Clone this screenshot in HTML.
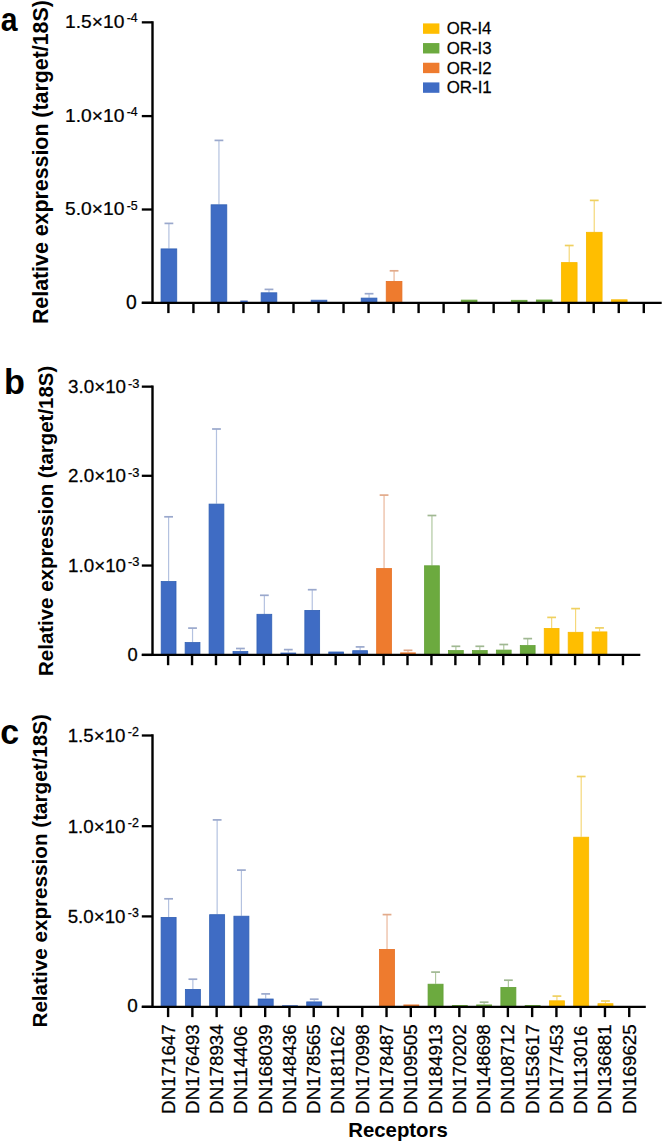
<!DOCTYPE html>
<html><head><meta charset="utf-8"><style>
html,body{margin:0;padding:0;background:#fff;}
body{width:663px;height:1143px;overflow:hidden;}
svg{display:block;font-family:"Liberation Sans", sans-serif;}
</style></head><body>
<svg width="663" height="1143" viewBox="0 0 663 1143">
<line x1="168.90" y1="248.50" x2="168.90" y2="223.40" stroke="#b4c2e0" stroke-width="1.2"/>
<line x1="164.50" y1="223.40" x2="173.30" y2="223.40" stroke="#9aa8cc" stroke-width="1.7"/>
<rect x="161.05" y="248.90" width="15.70" height="53.90" fill="#3f6cc4" stroke="#3060b4" stroke-width="0.8"/>
<line x1="218.94" y1="204.40" x2="218.94" y2="140.40" stroke="#b4c2e0" stroke-width="1.2"/>
<line x1="214.54" y1="140.40" x2="223.34" y2="140.40" stroke="#9aa8cc" stroke-width="1.7"/>
<rect x="211.09" y="204.80" width="15.70" height="98.00" fill="#3f6cc4" stroke="#3060b4" stroke-width="0.8"/>
<line x1="268.98" y1="292.40" x2="268.98" y2="289.40" stroke="#b4c2e0" stroke-width="1.2"/>
<line x1="264.58" y1="289.40" x2="273.38" y2="289.40" stroke="#9aa8cc" stroke-width="1.7"/>
<rect x="261.13" y="292.80" width="15.70" height="10.00" fill="#3f6cc4" stroke="#3060b4" stroke-width="0.8"/>
<rect x="311.17" y="300.20" width="15.70" height="2.60" fill="#3f6cc4" stroke="#3060b4" stroke-width="0.8"/>
<line x1="369.06" y1="297.70" x2="369.06" y2="293.70" stroke="#b4c2e0" stroke-width="1.2"/>
<line x1="364.66" y1="293.70" x2="373.46" y2="293.70" stroke="#9aa8cc" stroke-width="1.7"/>
<rect x="361.21" y="298.10" width="15.70" height="4.70" fill="#3f6cc4" stroke="#3060b4" stroke-width="0.8"/>
<line x1="394.08" y1="281.00" x2="394.08" y2="270.80" stroke="#eab89c" stroke-width="1.2"/>
<line x1="389.68" y1="270.80" x2="398.48" y2="270.80" stroke="#e2aa8a" stroke-width="1.7"/>
<rect x="386.23" y="281.40" width="15.70" height="21.40" fill="#ee7b2e" stroke="#e67024" stroke-width="0.8"/>
<rect x="461.29" y="300.10" width="15.70" height="2.70" fill="#6caa3f" stroke="#63a036" stroke-width="0.8"/>
<rect x="511.33" y="300.30" width="15.70" height="2.50" fill="#6caa3f" stroke="#63a036" stroke-width="0.8"/>
<rect x="536.35" y="300.00" width="15.70" height="2.80" fill="#6caa3f" stroke="#63a036" stroke-width="0.8"/>
<line x1="569.22" y1="262.20" x2="569.22" y2="245.50" stroke="#f5d87a" stroke-width="1.2"/>
<line x1="564.82" y1="245.50" x2="573.62" y2="245.50" stroke="#efd060" stroke-width="1.7"/>
<rect x="561.37" y="262.60" width="15.70" height="40.20" fill="#ffbe00" stroke="#f7b800" stroke-width="0.8"/>
<line x1="594.24" y1="231.90" x2="594.24" y2="200.40" stroke="#f5d87a" stroke-width="1.2"/>
<line x1="589.84" y1="200.40" x2="598.64" y2="200.40" stroke="#efd060" stroke-width="1.7"/>
<rect x="586.39" y="232.30" width="15.70" height="70.50" fill="#ffbe00" stroke="#f7b800" stroke-width="0.8"/>
<rect x="611.41" y="299.80" width="15.70" height="3.00" fill="#ffbe00" stroke="#f7b800" stroke-width="0.8"/>
<line x1="152.50" y1="21.15" x2="152.50" y2="304.00" stroke="#000" stroke-width="2.4"/>
<line x1="141.80" y1="302.80" x2="661.70" y2="302.80" stroke="#000" stroke-width="2.3"/>
<line x1="141.80" y1="302.80" x2="152.50" y2="302.80" stroke="#000" stroke-width="2.3"/>
<line x1="141.80" y1="209.50" x2="152.50" y2="209.50" stroke="#000" stroke-width="2.3"/>
<line x1="141.80" y1="116.10" x2="152.50" y2="116.10" stroke="#000" stroke-width="2.3"/>
<line x1="141.80" y1="22.35" x2="152.50" y2="22.35" stroke="#000" stroke-width="2.3"/>
<line x1="168.40" y1="302.80" x2="168.40" y2="313.10" stroke="#000" stroke-width="2.4"/>
<line x1="193.42" y1="302.80" x2="193.42" y2="313.10" stroke="#000" stroke-width="2.4"/>
<line x1="218.44" y1="302.80" x2="218.44" y2="313.10" stroke="#000" stroke-width="2.4"/>
<line x1="243.46" y1="302.80" x2="243.46" y2="313.10" stroke="#000" stroke-width="2.4"/>
<line x1="268.48" y1="302.80" x2="268.48" y2="313.10" stroke="#000" stroke-width="2.4"/>
<line x1="293.50" y1="302.80" x2="293.50" y2="313.10" stroke="#000" stroke-width="2.4"/>
<line x1="318.52" y1="302.80" x2="318.52" y2="313.10" stroke="#000" stroke-width="2.4"/>
<line x1="343.54" y1="302.80" x2="343.54" y2="313.10" stroke="#000" stroke-width="2.4"/>
<line x1="368.56" y1="302.80" x2="368.56" y2="313.10" stroke="#000" stroke-width="2.4"/>
<line x1="393.58" y1="302.80" x2="393.58" y2="313.10" stroke="#000" stroke-width="2.4"/>
<line x1="418.60" y1="302.80" x2="418.60" y2="313.10" stroke="#000" stroke-width="2.4"/>
<line x1="443.62" y1="302.80" x2="443.62" y2="313.10" stroke="#000" stroke-width="2.4"/>
<line x1="468.64" y1="302.80" x2="468.64" y2="313.10" stroke="#000" stroke-width="2.4"/>
<line x1="493.66" y1="302.80" x2="493.66" y2="313.10" stroke="#000" stroke-width="2.4"/>
<line x1="518.68" y1="302.80" x2="518.68" y2="313.10" stroke="#000" stroke-width="2.4"/>
<line x1="543.70" y1="302.80" x2="543.70" y2="313.10" stroke="#000" stroke-width="2.4"/>
<line x1="568.72" y1="302.80" x2="568.72" y2="313.10" stroke="#000" stroke-width="2.4"/>
<line x1="593.74" y1="302.80" x2="593.74" y2="313.10" stroke="#000" stroke-width="2.4"/>
<line x1="618.76" y1="302.80" x2="618.76" y2="313.10" stroke="#000" stroke-width="2.4"/>
<line x1="643.78" y1="302.80" x2="643.78" y2="313.10" stroke="#000" stroke-width="2.4"/>
<line x1="168.60" y1="581.10" x2="168.60" y2="516.80" stroke="#b4c2e0" stroke-width="1.2"/>
<line x1="164.20" y1="516.80" x2="173.00" y2="516.80" stroke="#9aa8cc" stroke-width="1.7"/>
<rect x="161.20" y="581.50" width="14.80" height="73.40" fill="#3f6cc4" stroke="#3060b4" stroke-width="0.8"/>
<line x1="192.54" y1="642.20" x2="192.54" y2="628.10" stroke="#b4c2e0" stroke-width="1.2"/>
<line x1="188.14" y1="628.10" x2="196.94" y2="628.10" stroke="#9aa8cc" stroke-width="1.7"/>
<rect x="185.14" y="642.60" width="14.80" height="12.30" fill="#3f6cc4" stroke="#3060b4" stroke-width="0.8"/>
<line x1="216.48" y1="503.70" x2="216.48" y2="429.00" stroke="#b4c2e0" stroke-width="1.2"/>
<line x1="212.08" y1="429.00" x2="220.88" y2="429.00" stroke="#9aa8cc" stroke-width="1.7"/>
<rect x="209.08" y="504.10" width="14.80" height="150.80" fill="#3f6cc4" stroke="#3060b4" stroke-width="0.8"/>
<line x1="240.42" y1="651.20" x2="240.42" y2="648.50" stroke="#b4c2e0" stroke-width="1.2"/>
<line x1="236.02" y1="648.50" x2="244.82" y2="648.50" stroke="#9aa8cc" stroke-width="1.7"/>
<rect x="233.02" y="651.60" width="14.80" height="3.30" fill="#3f6cc4" stroke="#3060b4" stroke-width="0.8"/>
<line x1="264.36" y1="613.90" x2="264.36" y2="595.30" stroke="#b4c2e0" stroke-width="1.2"/>
<line x1="259.96" y1="595.30" x2="268.76" y2="595.30" stroke="#9aa8cc" stroke-width="1.7"/>
<rect x="256.96" y="614.30" width="14.80" height="40.60" fill="#3f6cc4" stroke="#3060b4" stroke-width="0.8"/>
<line x1="288.30" y1="652.60" x2="288.30" y2="649.60" stroke="#b4c2e0" stroke-width="1.2"/>
<line x1="283.90" y1="649.60" x2="292.70" y2="649.60" stroke="#9aa8cc" stroke-width="1.7"/>
<rect x="280.50" y="652.60" width="15.60" height="2.30" fill="#3f6cc4"/>
<line x1="312.24" y1="610.00" x2="312.24" y2="589.70" stroke="#b4c2e0" stroke-width="1.2"/>
<line x1="307.84" y1="589.70" x2="316.64" y2="589.70" stroke="#9aa8cc" stroke-width="1.7"/>
<rect x="304.84" y="610.40" width="14.80" height="44.50" fill="#3f6cc4" stroke="#3060b4" stroke-width="0.8"/>
<rect x="328.78" y="652.00" width="14.80" height="2.90" fill="#3f6cc4" stroke="#3060b4" stroke-width="0.8"/>
<line x1="360.12" y1="650.30" x2="360.12" y2="646.90" stroke="#b4c2e0" stroke-width="1.2"/>
<line x1="355.72" y1="646.90" x2="364.52" y2="646.90" stroke="#9aa8cc" stroke-width="1.7"/>
<rect x="352.72" y="650.70" width="14.80" height="4.20" fill="#3f6cc4" stroke="#3060b4" stroke-width="0.8"/>
<line x1="384.06" y1="568.20" x2="384.06" y2="495.10" stroke="#eab89c" stroke-width="1.2"/>
<line x1="379.66" y1="495.10" x2="388.46" y2="495.10" stroke="#e2aa8a" stroke-width="1.7"/>
<rect x="376.66" y="568.60" width="14.80" height="86.30" fill="#ee7b2e" stroke="#e67024" stroke-width="0.8"/>
<line x1="408.00" y1="652.40" x2="408.00" y2="650.30" stroke="#eab89c" stroke-width="1.2"/>
<line x1="403.60" y1="650.30" x2="412.40" y2="650.30" stroke="#e2aa8a" stroke-width="1.7"/>
<rect x="400.20" y="652.40" width="15.60" height="2.50" fill="#ee7b2e"/>
<line x1="431.94" y1="565.40" x2="431.94" y2="515.50" stroke="#b0c8a0" stroke-width="1.2"/>
<line x1="427.54" y1="515.50" x2="436.34" y2="515.50" stroke="#a0b892" stroke-width="1.7"/>
<rect x="424.54" y="565.80" width="14.80" height="89.10" fill="#6caa3f" stroke="#63a036" stroke-width="0.8"/>
<line x1="455.88" y1="650.20" x2="455.88" y2="646.30" stroke="#b0c8a0" stroke-width="1.2"/>
<line x1="451.48" y1="646.30" x2="460.28" y2="646.30" stroke="#a0b892" stroke-width="1.7"/>
<rect x="448.48" y="650.60" width="14.80" height="4.30" fill="#6caa3f" stroke="#63a036" stroke-width="0.8"/>
<line x1="479.82" y1="650.20" x2="479.82" y2="646.30" stroke="#b0c8a0" stroke-width="1.2"/>
<line x1="475.42" y1="646.30" x2="484.22" y2="646.30" stroke="#a0b892" stroke-width="1.7"/>
<rect x="472.42" y="650.60" width="14.80" height="4.30" fill="#6caa3f" stroke="#63a036" stroke-width="0.8"/>
<line x1="503.76" y1="649.70" x2="503.76" y2="644.50" stroke="#b0c8a0" stroke-width="1.2"/>
<line x1="499.36" y1="644.50" x2="508.16" y2="644.50" stroke="#a0b892" stroke-width="1.7"/>
<rect x="496.36" y="650.10" width="14.80" height="4.80" fill="#6caa3f" stroke="#63a036" stroke-width="0.8"/>
<line x1="527.70" y1="645.20" x2="527.70" y2="638.60" stroke="#b0c8a0" stroke-width="1.2"/>
<line x1="523.30" y1="638.60" x2="532.10" y2="638.60" stroke="#a0b892" stroke-width="1.7"/>
<rect x="520.30" y="645.60" width="14.80" height="9.30" fill="#6caa3f" stroke="#63a036" stroke-width="0.8"/>
<line x1="551.64" y1="628.00" x2="551.64" y2="617.40" stroke="#f5d87a" stroke-width="1.2"/>
<line x1="547.24" y1="617.40" x2="556.04" y2="617.40" stroke="#efd060" stroke-width="1.7"/>
<rect x="544.24" y="628.40" width="14.80" height="26.50" fill="#ffbe00" stroke="#f7b800" stroke-width="0.8"/>
<line x1="575.58" y1="631.90" x2="575.58" y2="608.60" stroke="#f5d87a" stroke-width="1.2"/>
<line x1="571.18" y1="608.60" x2="579.98" y2="608.60" stroke="#efd060" stroke-width="1.7"/>
<rect x="568.18" y="632.30" width="14.80" height="22.60" fill="#ffbe00" stroke="#f7b800" stroke-width="0.8"/>
<line x1="599.52" y1="631.50" x2="599.52" y2="627.90" stroke="#f5d87a" stroke-width="1.2"/>
<line x1="595.12" y1="627.90" x2="603.92" y2="627.90" stroke="#efd060" stroke-width="1.7"/>
<rect x="592.12" y="631.90" width="14.80" height="23.00" fill="#ffbe00" stroke="#f7b800" stroke-width="0.8"/>
<line x1="152.50" y1="385.45" x2="152.50" y2="656.10" stroke="#000" stroke-width="2.4"/>
<line x1="141.80" y1="654.90" x2="640.30" y2="654.90" stroke="#000" stroke-width="2.3"/>
<line x1="141.80" y1="654.90" x2="152.50" y2="654.90" stroke="#000" stroke-width="2.3"/>
<line x1="141.80" y1="565.55" x2="152.50" y2="565.55" stroke="#000" stroke-width="2.3"/>
<line x1="141.80" y1="475.80" x2="152.50" y2="475.80" stroke="#000" stroke-width="2.3"/>
<line x1="141.80" y1="386.65" x2="152.50" y2="386.65" stroke="#000" stroke-width="2.3"/>
<line x1="168.10" y1="654.90" x2="168.10" y2="665.20" stroke="#000" stroke-width="2.4"/>
<line x1="192.04" y1="654.90" x2="192.04" y2="665.20" stroke="#000" stroke-width="2.4"/>
<line x1="215.98" y1="654.90" x2="215.98" y2="665.20" stroke="#000" stroke-width="2.4"/>
<line x1="239.92" y1="654.90" x2="239.92" y2="665.20" stroke="#000" stroke-width="2.4"/>
<line x1="263.86" y1="654.90" x2="263.86" y2="665.20" stroke="#000" stroke-width="2.4"/>
<line x1="287.80" y1="654.90" x2="287.80" y2="665.20" stroke="#000" stroke-width="2.4"/>
<line x1="311.74" y1="654.90" x2="311.74" y2="665.20" stroke="#000" stroke-width="2.4"/>
<line x1="335.68" y1="654.90" x2="335.68" y2="665.20" stroke="#000" stroke-width="2.4"/>
<line x1="359.62" y1="654.90" x2="359.62" y2="665.20" stroke="#000" stroke-width="2.4"/>
<line x1="383.56" y1="654.90" x2="383.56" y2="665.20" stroke="#000" stroke-width="2.4"/>
<line x1="407.50" y1="654.90" x2="407.50" y2="665.20" stroke="#000" stroke-width="2.4"/>
<line x1="431.44" y1="654.90" x2="431.44" y2="665.20" stroke="#000" stroke-width="2.4"/>
<line x1="455.38" y1="654.90" x2="455.38" y2="665.20" stroke="#000" stroke-width="2.4"/>
<line x1="479.32" y1="654.90" x2="479.32" y2="665.20" stroke="#000" stroke-width="2.4"/>
<line x1="503.26" y1="654.90" x2="503.26" y2="665.20" stroke="#000" stroke-width="2.4"/>
<line x1="527.20" y1="654.90" x2="527.20" y2="665.20" stroke="#000" stroke-width="2.4"/>
<line x1="551.14" y1="654.90" x2="551.14" y2="665.20" stroke="#000" stroke-width="2.4"/>
<line x1="575.08" y1="654.90" x2="575.08" y2="665.20" stroke="#000" stroke-width="2.4"/>
<line x1="599.02" y1="654.90" x2="599.02" y2="665.20" stroke="#000" stroke-width="2.4"/>
<line x1="622.96" y1="654.90" x2="622.96" y2="665.20" stroke="#000" stroke-width="2.4"/>
<line x1="168.60" y1="917.00" x2="168.60" y2="898.80" stroke="#b4c2e0" stroke-width="1.2"/>
<line x1="164.20" y1="898.80" x2="173.00" y2="898.80" stroke="#9aa8cc" stroke-width="1.7"/>
<rect x="161.10" y="917.40" width="15.00" height="89.40" fill="#3f6cc4" stroke="#3060b4" stroke-width="0.8"/>
<line x1="192.87" y1="989.00" x2="192.87" y2="979.20" stroke="#b4c2e0" stroke-width="1.2"/>
<line x1="188.47" y1="979.20" x2="197.27" y2="979.20" stroke="#9aa8cc" stroke-width="1.7"/>
<rect x="185.37" y="989.40" width="15.00" height="17.40" fill="#3f6cc4" stroke="#3060b4" stroke-width="0.8"/>
<line x1="217.14" y1="914.30" x2="217.14" y2="819.90" stroke="#b4c2e0" stroke-width="1.2"/>
<line x1="212.74" y1="819.90" x2="221.54" y2="819.90" stroke="#9aa8cc" stroke-width="1.7"/>
<rect x="209.64" y="914.70" width="15.00" height="92.10" fill="#3f6cc4" stroke="#3060b4" stroke-width="0.8"/>
<line x1="241.41" y1="915.80" x2="241.41" y2="870.10" stroke="#b4c2e0" stroke-width="1.2"/>
<line x1="237.01" y1="870.10" x2="245.81" y2="870.10" stroke="#9aa8cc" stroke-width="1.7"/>
<rect x="233.91" y="916.20" width="15.00" height="90.60" fill="#3f6cc4" stroke="#3060b4" stroke-width="0.8"/>
<line x1="265.68" y1="998.60" x2="265.68" y2="993.90" stroke="#b4c2e0" stroke-width="1.2"/>
<line x1="261.28" y1="993.90" x2="270.08" y2="993.90" stroke="#9aa8cc" stroke-width="1.7"/>
<rect x="258.18" y="999.00" width="15.00" height="7.80" fill="#3f6cc4" stroke="#3060b4" stroke-width="0.8"/>
<rect x="282.05" y="1005.20" width="15.80" height="1.60" fill="#3f6cc4"/>
<line x1="314.22" y1="1001.50" x2="314.22" y2="999.20" stroke="#b4c2e0" stroke-width="1.2"/>
<line x1="309.82" y1="999.20" x2="318.62" y2="999.20" stroke="#9aa8cc" stroke-width="1.7"/>
<rect x="306.72" y="1001.90" width="15.00" height="4.90" fill="#3f6cc4" stroke="#3060b4" stroke-width="0.8"/>
<line x1="387.03" y1="949.00" x2="387.03" y2="914.60" stroke="#eab89c" stroke-width="1.2"/>
<line x1="382.63" y1="914.60" x2="391.43" y2="914.60" stroke="#e2aa8a" stroke-width="1.7"/>
<rect x="379.53" y="949.40" width="15.00" height="57.40" fill="#ee7b2e" stroke="#e67024" stroke-width="0.8"/>
<rect x="403.40" y="1004.50" width="15.80" height="2.30" fill="#ee7b2e"/>
<line x1="435.57" y1="983.80" x2="435.57" y2="972.10" stroke="#b0c8a0" stroke-width="1.2"/>
<line x1="431.17" y1="972.10" x2="439.97" y2="972.10" stroke="#a0b892" stroke-width="1.7"/>
<rect x="428.07" y="984.20" width="15.00" height="22.60" fill="#6caa3f" stroke="#63a036" stroke-width="0.8"/>
<rect x="451.94" y="1005.00" width="15.80" height="1.80" fill="#6caa3f"/>
<line x1="484.11" y1="1004.50" x2="484.11" y2="1002.20" stroke="#b0c8a0" stroke-width="1.2"/>
<line x1="479.71" y1="1002.20" x2="488.51" y2="1002.20" stroke="#a0b892" stroke-width="1.7"/>
<rect x="476.21" y="1004.50" width="15.80" height="2.30" fill="#6caa3f"/>
<line x1="508.38" y1="987.00" x2="508.38" y2="980.20" stroke="#b0c8a0" stroke-width="1.2"/>
<line x1="503.98" y1="980.20" x2="512.78" y2="980.20" stroke="#a0b892" stroke-width="1.7"/>
<rect x="500.88" y="987.40" width="15.00" height="19.40" fill="#6caa3f" stroke="#63a036" stroke-width="0.8"/>
<rect x="524.75" y="1005.00" width="15.80" height="1.80" fill="#6caa3f"/>
<line x1="556.92" y1="1000.40" x2="556.92" y2="996.10" stroke="#f5d87a" stroke-width="1.2"/>
<line x1="552.52" y1="996.10" x2="561.32" y2="996.10" stroke="#efd060" stroke-width="1.7"/>
<rect x="549.42" y="1000.80" width="15.00" height="6.00" fill="#ffbe00" stroke="#f7b800" stroke-width="0.8"/>
<line x1="581.19" y1="836.80" x2="581.19" y2="776.50" stroke="#f5d87a" stroke-width="1.2"/>
<line x1="576.79" y1="776.50" x2="585.59" y2="776.50" stroke="#efd060" stroke-width="1.7"/>
<rect x="573.69" y="837.20" width="15.00" height="169.60" fill="#ffbe00" stroke="#f7b800" stroke-width="0.8"/>
<line x1="605.46" y1="1003.30" x2="605.46" y2="1001.00" stroke="#f5d87a" stroke-width="1.2"/>
<line x1="601.06" y1="1001.00" x2="609.86" y2="1001.00" stroke="#efd060" stroke-width="1.7"/>
<rect x="597.96" y="1003.70" width="15.00" height="3.10" fill="#ffbe00" stroke="#f7b800" stroke-width="0.8"/>
<line x1="152.50" y1="734.30" x2="152.50" y2="1008.00" stroke="#000" stroke-width="2.4"/>
<line x1="141.80" y1="1006.80" x2="645.80" y2="1006.80" stroke="#000" stroke-width="2.3"/>
<line x1="141.80" y1="1006.80" x2="152.50" y2="1006.80" stroke="#000" stroke-width="2.3"/>
<line x1="141.80" y1="916.40" x2="152.50" y2="916.40" stroke="#000" stroke-width="2.3"/>
<line x1="141.80" y1="826.20" x2="152.50" y2="826.20" stroke="#000" stroke-width="2.3"/>
<line x1="141.80" y1="735.50" x2="152.50" y2="735.50" stroke="#000" stroke-width="2.3"/>
<line x1="168.10" y1="1006.80" x2="168.10" y2="1017.10" stroke="#000" stroke-width="2.4"/>
<line x1="192.37" y1="1006.80" x2="192.37" y2="1017.10" stroke="#000" stroke-width="2.4"/>
<line x1="216.64" y1="1006.80" x2="216.64" y2="1017.10" stroke="#000" stroke-width="2.4"/>
<line x1="240.91" y1="1006.80" x2="240.91" y2="1017.10" stroke="#000" stroke-width="2.4"/>
<line x1="265.18" y1="1006.80" x2="265.18" y2="1017.10" stroke="#000" stroke-width="2.4"/>
<line x1="289.45" y1="1006.80" x2="289.45" y2="1017.10" stroke="#000" stroke-width="2.4"/>
<line x1="313.72" y1="1006.80" x2="313.72" y2="1017.10" stroke="#000" stroke-width="2.4"/>
<line x1="337.99" y1="1006.80" x2="337.99" y2="1017.10" stroke="#000" stroke-width="2.4"/>
<line x1="362.26" y1="1006.80" x2="362.26" y2="1017.10" stroke="#000" stroke-width="2.4"/>
<line x1="386.53" y1="1006.80" x2="386.53" y2="1017.10" stroke="#000" stroke-width="2.4"/>
<line x1="410.80" y1="1006.80" x2="410.80" y2="1017.10" stroke="#000" stroke-width="2.4"/>
<line x1="435.07" y1="1006.80" x2="435.07" y2="1017.10" stroke="#000" stroke-width="2.4"/>
<line x1="459.34" y1="1006.80" x2="459.34" y2="1017.10" stroke="#000" stroke-width="2.4"/>
<line x1="483.61" y1="1006.80" x2="483.61" y2="1017.10" stroke="#000" stroke-width="2.4"/>
<line x1="507.88" y1="1006.80" x2="507.88" y2="1017.10" stroke="#000" stroke-width="2.4"/>
<line x1="532.15" y1="1006.80" x2="532.15" y2="1017.10" stroke="#000" stroke-width="2.4"/>
<line x1="556.42" y1="1006.80" x2="556.42" y2="1017.10" stroke="#000" stroke-width="2.4"/>
<line x1="580.69" y1="1006.80" x2="580.69" y2="1017.10" stroke="#000" stroke-width="2.4"/>
<line x1="604.96" y1="1006.80" x2="604.96" y2="1017.10" stroke="#000" stroke-width="2.4"/>
<line x1="629.23" y1="1006.80" x2="629.23" y2="1017.10" stroke="#000" stroke-width="2.4"/>
<rect x="240.30" y="300.60" width="7.40" height="1.40" fill="#2f55a8"/>
<text transform="translate(125.93,308.65) scale(0.9969,1)" font-size="19.43" font-weight="normal" fill="#000" stroke="#000" stroke-width="0.25">0</text>
<text transform="translate(64.96,215.20) scale(1.0370,1)" font-size="18.57" font-weight="normal" fill="#000" stroke="#000" stroke-width="0.25">5.0×10</text>
<text transform="translate(126.64,209.50) scale(1.0453,1)" font-size="11.88" font-weight="normal" fill="#000" stroke="#000" stroke-width="0.25">-5</text>
<text transform="translate(64.96,121.80) scale(1.0370,1)" font-size="18.57" font-weight="normal" fill="#000" stroke="#000" stroke-width="0.25">1.0×10</text>
<text transform="translate(126.65,116.10) scale(1.0325,1)" font-size="11.88" font-weight="normal" fill="#000" stroke="#000" stroke-width="0.25">-4</text>
<text transform="translate(64.96,28.05) scale(1.0370,1)" font-size="18.57" font-weight="normal" fill="#000" stroke="#000" stroke-width="0.25">1.5×10</text>
<text transform="translate(126.65,22.35) scale(1.0325,1)" font-size="11.88" font-weight="normal" fill="#000" stroke="#000" stroke-width="0.25">-4</text>
<text transform="translate(127.47,661.20) scale(0.9640,1)" font-size="19.00" font-weight="normal" fill="#000" stroke="#000" stroke-width="0.25">0</text>
<text transform="translate(68.05,571.85) scale(1.0124,1)" font-size="18.57" font-weight="normal" fill="#000" stroke="#000" stroke-width="0.25">1.0×10</text>
<text transform="translate(128.02,566.40) scale(1.0729,1)" font-size="12.00" font-weight="normal" fill="#000" stroke="#000" stroke-width="0.25">-3</text>
<text transform="translate(68.05,482.10) scale(1.0124,1)" font-size="18.57" font-weight="normal" fill="#000" stroke="#000" stroke-width="0.25">2.0×10</text>
<text transform="translate(128.02,476.65) scale(1.0729,1)" font-size="12.00" font-weight="normal" fill="#000" stroke="#000" stroke-width="0.25">-3</text>
<text transform="translate(68.05,392.95) scale(1.0124,1)" font-size="18.57" font-weight="normal" fill="#000" stroke="#000" stroke-width="0.25">3.0×10</text>
<text transform="translate(128.02,387.50) scale(1.0729,1)" font-size="12.00" font-weight="normal" fill="#000" stroke="#000" stroke-width="0.25">-3</text>
<text transform="translate(127.14,1012.40) scale(1.0202,1)" font-size="18.57" font-weight="normal" fill="#000" stroke="#000" stroke-width="0.25">0</text>
<text transform="translate(67.70,922.85) scale(0.9928,1)" font-size="18.86" font-weight="normal" fill="#000" stroke="#000" stroke-width="0.25">5.0×10</text>
<text transform="translate(127.84,917.05) scale(1.0437,1)" font-size="11.86" font-weight="normal" fill="#000" stroke="#000" stroke-width="0.25">-3</text>
<text transform="translate(67.70,832.65) scale(0.9928,1)" font-size="18.86" font-weight="normal" fill="#000" stroke="#000" stroke-width="0.25">1.0×10</text>
<text transform="translate(127.84,826.85) scale(1.0502,1)" font-size="11.86" font-weight="normal" fill="#000" stroke="#000" stroke-width="0.25">-2</text>
<text transform="translate(67.70,741.95) scale(0.9928,1)" font-size="18.86" font-weight="normal" fill="#000" stroke="#000" stroke-width="0.25">1.5×10</text>
<text transform="translate(127.84,736.15) scale(1.0502,1)" font-size="11.86" font-weight="normal" fill="#000" stroke="#000" stroke-width="0.25">-2</text>
<text transform="translate(0.69,30.70) scale(0.8860,1)" font-size="34.07" font-weight="bold" fill="#000">a</text>
<text transform="translate(3.97,394.40) scale(0.9740,1)" font-size="35.17" font-weight="bold" fill="#000">b</text>
<text transform="translate(0.24,743.50) scale(0.9824,1)" font-size="34.63" font-weight="bold" fill="#000">c</text>
<text transform="translate(48.30,324.09) rotate(-90) scale(1.0092,1)" font-size="21.16" font-weight="bold" fill="#000">Relative expression (target/18S)</text>
<text transform="translate(53.00,675.93) rotate(-90) scale(1.0086,1)" font-size="20.29" font-weight="bold" fill="#000">Relative expression (target/18S)</text>
<text transform="translate(46.90,1027.54) rotate(-90) scale(0.9840,1)" font-size="21.01" font-weight="bold" fill="#000">Relative expression (target/18S)</text>
<rect x="423.00" y="23.40" width="16.40" height="10.40" fill="#ffbe00"/>
<text transform="translate(446.75,34.40) scale(0.9694,1)" font-size="17.29" font-weight="normal" fill="#000" stroke="#000" stroke-width="0.25">OR-I4</text>
<rect x="423.00" y="43.07" width="16.40" height="10.40" fill="#6caa3f"/>
<text transform="translate(446.74,54.07) scale(0.9750,1)" font-size="17.29" font-weight="normal" fill="#000" stroke="#000" stroke-width="0.25">OR-I3</text>
<rect x="423.00" y="62.74" width="16.40" height="10.40" fill="#ee7b2e"/>
<text transform="translate(446.74,73.74) scale(0.9769,1)" font-size="17.29" font-weight="normal" fill="#000" stroke="#000" stroke-width="0.25">OR-I2</text>
<rect x="423.00" y="82.41" width="16.40" height="10.40" fill="#3f6cc4"/>
<text transform="translate(446.74,93.41) scale(0.9769,1)" font-size="17.29" font-weight="normal" fill="#000" stroke="#000" stroke-width="0.25">OR-I1</text>
<text transform="translate(174.55,1113.90) rotate(-90) scale(1.0182,1)" font-size="18.43" fill="#000" stroke="#000" stroke-width="0.25">DN171647</text>
<text transform="translate(198.82,1113.90) rotate(-90) scale(1.0182,1)" font-size="18.43" fill="#000" stroke="#000" stroke-width="0.25">DN176493</text>
<text transform="translate(223.09,1113.90) rotate(-90) scale(1.0182,1)" font-size="18.43" fill="#000" stroke="#000" stroke-width="0.25">DN178934</text>
<text transform="translate(247.36,1113.90) rotate(-90) scale(1.0182,1)" font-size="18.43" fill="#000" stroke="#000" stroke-width="0.25">DN114406</text>
<text transform="translate(271.63,1113.90) rotate(-90) scale(1.0182,1)" font-size="18.43" fill="#000" stroke="#000" stroke-width="0.25">DN168039</text>
<text transform="translate(295.90,1113.90) rotate(-90) scale(1.0182,1)" font-size="18.43" fill="#000" stroke="#000" stroke-width="0.25">DN148436</text>
<text transform="translate(320.17,1113.90) rotate(-90) scale(1.0182,1)" font-size="18.43" fill="#000" stroke="#000" stroke-width="0.25">DN178565</text>
<text transform="translate(344.44,1113.90) rotate(-90) scale(1.0182,1)" font-size="18.43" fill="#000" stroke="#000" stroke-width="0.25">DN181162</text>
<text transform="translate(368.71,1113.90) rotate(-90) scale(1.0182,1)" font-size="18.43" fill="#000" stroke="#000" stroke-width="0.25">DN170998</text>
<text transform="translate(392.98,1113.90) rotate(-90) scale(1.0182,1)" font-size="18.43" fill="#000" stroke="#000" stroke-width="0.25">DN178487</text>
<text transform="translate(417.25,1113.90) rotate(-90) scale(1.0182,1)" font-size="18.43" fill="#000" stroke="#000" stroke-width="0.25">DN109505</text>
<text transform="translate(441.52,1113.90) rotate(-90) scale(1.0182,1)" font-size="18.43" fill="#000" stroke="#000" stroke-width="0.25">DN184913</text>
<text transform="translate(465.79,1113.90) rotate(-90) scale(1.0182,1)" font-size="18.43" fill="#000" stroke="#000" stroke-width="0.25">DN170202</text>
<text transform="translate(490.06,1113.90) rotate(-90) scale(1.0182,1)" font-size="18.43" fill="#000" stroke="#000" stroke-width="0.25">DN148698</text>
<text transform="translate(514.33,1113.90) rotate(-90) scale(1.0182,1)" font-size="18.43" fill="#000" stroke="#000" stroke-width="0.25">DN108712</text>
<text transform="translate(538.60,1113.90) rotate(-90) scale(1.0182,1)" font-size="18.43" fill="#000" stroke="#000" stroke-width="0.25">DN153617</text>
<text transform="translate(562.87,1113.90) rotate(-90) scale(1.0182,1)" font-size="18.43" fill="#000" stroke="#000" stroke-width="0.25">DN177453</text>
<text transform="translate(587.14,1113.90) rotate(-90) scale(1.0182,1)" font-size="18.43" fill="#000" stroke="#000" stroke-width="0.25">DN113016</text>
<text transform="translate(611.41,1113.90) rotate(-90) scale(1.0182,1)" font-size="18.43" fill="#000" stroke="#000" stroke-width="0.25">DN136881</text>
<text transform="translate(635.68,1113.90) rotate(-90) scale(1.0182,1)" font-size="18.43" fill="#000" stroke="#000" stroke-width="0.25">DN169625</text>
<text transform="translate(348.18,1136.70) scale(1.0414,1)" font-size="19.57" font-weight="bold" fill="#000">Receptors</text>
</svg>
</body></html>
